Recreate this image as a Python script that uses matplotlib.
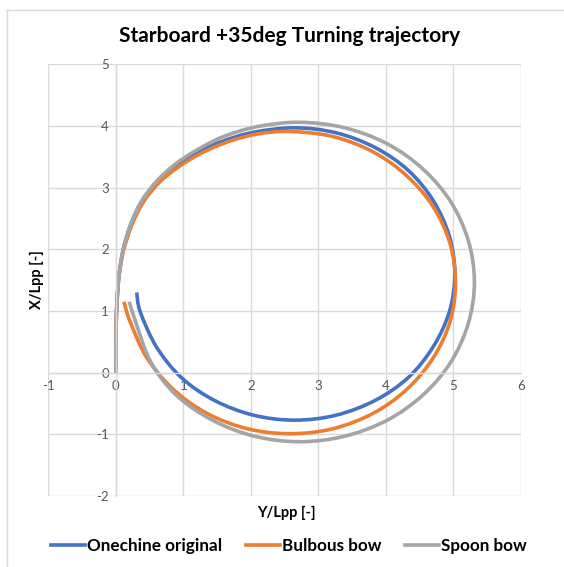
import matplotlib
matplotlib.use("Agg")
import matplotlib.pyplot as plt
import numpy as np
from matplotlib.lines import Line2D
from matplotlib.path import Path
from matplotlib.patches import PathPatch

plt.rcParams['font.family'] = ['Lato', 'DejaVu Sans']
plt.rcParams['axes.unicode_minus'] = False

# Transfer (Y/Lpp) and advance (X/Lpp) for each hull form
onechine_y = [0.00, 0.00, 0.005, 0.02, 0.05, 0.11, 0.22, 0.38, 0.60, 0.88, 1.20, 1.60,
              2.05, 2.65, 3.26, 3.84, 4.33, 4.70, 4.94, 5.02, 4.94, 4.70, 4.33, 3.84,
              3.26, 2.65, 2.04, 1.46, 0.97, 0.60, 0.36, 0.31]
onechine_x = [0.00, 0.40, 0.80, 1.20, 1.60, 2.00, 2.40, 2.77, 3.08, 3.35, 3.57, 3.76,
              3.90, 3.97, 3.89, 3.65, 3.28, 2.79, 2.21, 1.60, 0.99, 0.42, -0.08, -0.45,
              -0.69, -0.77, -0.69, -0.45, -0.08, 0.42, 0.99, 1.30]

bulbous_y = [0.00, 0.00, 0.005, 0.02, 0.05, 0.12, 0.24, 0.41, 0.64, 0.92, 1.25, 1.65,
             2.10, 2.58, 3.21, 3.81, 4.31, 4.70, 4.95, 5.03, 4.95, 4.70, 4.31, 3.81,
             3.21, 2.58, 1.95, 1.35, 0.85, 0.46, 0.21, 0.12]
bulbous_x = [0.00, 0.40, 0.80, 1.20, 1.60, 2.00, 2.40, 2.77, 3.08, 3.33, 3.55, 3.74,
             3.87, 3.91, 3.83, 3.58, 3.19, 2.69, 2.09, 1.46, 0.83, 0.24, -0.27, -0.66,
             -0.91, -0.99, -0.91, -0.66, -0.27, 0.24, 0.83, 1.15]

spoon_y = [0.00, 0.00, 0.005, 0.02, 0.05, 0.11, 0.22, 0.38, 0.60, 0.88, 1.20, 1.60,
           2.10, 2.72, 3.39, 4.02, 4.55, 4.96, 5.22, 5.31, 5.22, 4.96, 4.55, 4.02,
           3.39, 2.72, 2.05, 1.43, 0.89, 0.52, 0.30, 0.20]
spoon_x = [0.00, 0.40, 0.80, 1.20, 1.60, 2.00, 2.40, 2.78, 3.10, 3.38, 3.61, 3.83,
           3.99, 4.06, 3.97, 3.71, 3.30, 2.77, 2.14, 1.47, 0.80, 0.17, -0.36, -0.77,
           -1.03, -1.12, -1.03, -0.77, -0.36, 0.17, 0.80, 1.15]

series = [
    ("Onechine original", onechine_y, onechine_x, "#4472C4"),
    ("Bulbous bow", bulbous_y, bulbous_x, "#ED7D31"),
    ("Spoon bow", spoon_y, spoon_x, "#A5A5A5"),
]

grid_color = "#D9D9D9"
text_gray = "#595959"


def smooth_path(xs, ys):
    """Bezier path through the points (smoothed line)."""
    p = np.column_stack([xs, ys]).astype(float)
    p_ext = np.vstack([p[0], p, p[-1]])
    verts = [p[0]]
    codes = [Path.MOVETO]
    for i in range(len(p) - 1):
        p0, p1, p2, p3 = p_ext[i], p_ext[i + 1], p_ext[i + 2], p_ext[i + 3]
        verts += [p1 + (p2 - p0) / 6, p2 - (p3 - p1) / 6, p2]
        codes += [Path.CURVE4] * 3
    return Path(verts, codes)


fig = plt.figure(figsize=(5.64, 5.67), dpi=100)
ax = fig.add_axes([48.3 / 564, 1 - 496 / 567, (521 - 48.3) / 564, (496 - 64.3) / 567])

handles = []
for name, ys, xs, color in series:
    ax.add_patch(PathPatch(smooth_path(ys, xs), fill=False, edgecolor=color,
                           lw=2.6, capstyle='butt', joinstyle='round'))
    handles.append(Line2D([], [], color=color, lw=2.6, label=name))

ax.set_xlim(-1, 6)
ax.set_ylim(-2, 5)
ax.set_xticks(range(-1, 7))
ax.set_yticks(range(-2, 6))
ax.grid(True, color=grid_color, lw=1.0)
ax.set_axisbelow(True)

# axes cross at the origin
for side in ['top', 'right']:
    ax.spines[side].set_visible(False)
ax.spines['left'].set_position(('data', 0))
ax.spines['bottom'].set_position(('data', 0))
for side in ['left', 'bottom']:
    ax.spines[side].set_color(grid_color)
    ax.spines[side].set_linewidth(1.0)
ax.tick_params(length=0, labelsize=9.5, labelcolor=text_gray, pad=5)

fig.text(290 / 564, 1 - 36 / 567, "Starboard +35deg Turning trajectory",
         ha='center', va='center', fontsize=15, fontweight='bold')
fig.text(37 / 564, 1 - 280 / 567, "X/Lpp [-]", rotation=90,
         ha='center', va='center', fontsize=10.5, fontweight='bold')
fig.text(286 / 564, 1 - 513 / 567, "Y/Lpp [-]",
         ha='center', va='center', fontsize=10.5, fontweight='bold')

fig.legend(handles=handles, loc='center', bbox_to_anchor=(289 / 564, 1 - 546 / 567),
           ncol=3, frameon=False, prop={'size': 12.3, 'weight': 'bold'},
           handlelength=2.0, handletextpad=0.1, columnspacing=1.4)

# outer chart frame
fig.add_artist(Line2D([6.5 / 564, 1], [1 - 10 / 567] * 2, color=grid_color, lw=1.0))
fig.add_artist(Line2D([6.5 / 564] * 2, [0, 1 - 10 / 567], color=grid_color, lw=1.0))

fig.savefig("out.png", dpi=100)
